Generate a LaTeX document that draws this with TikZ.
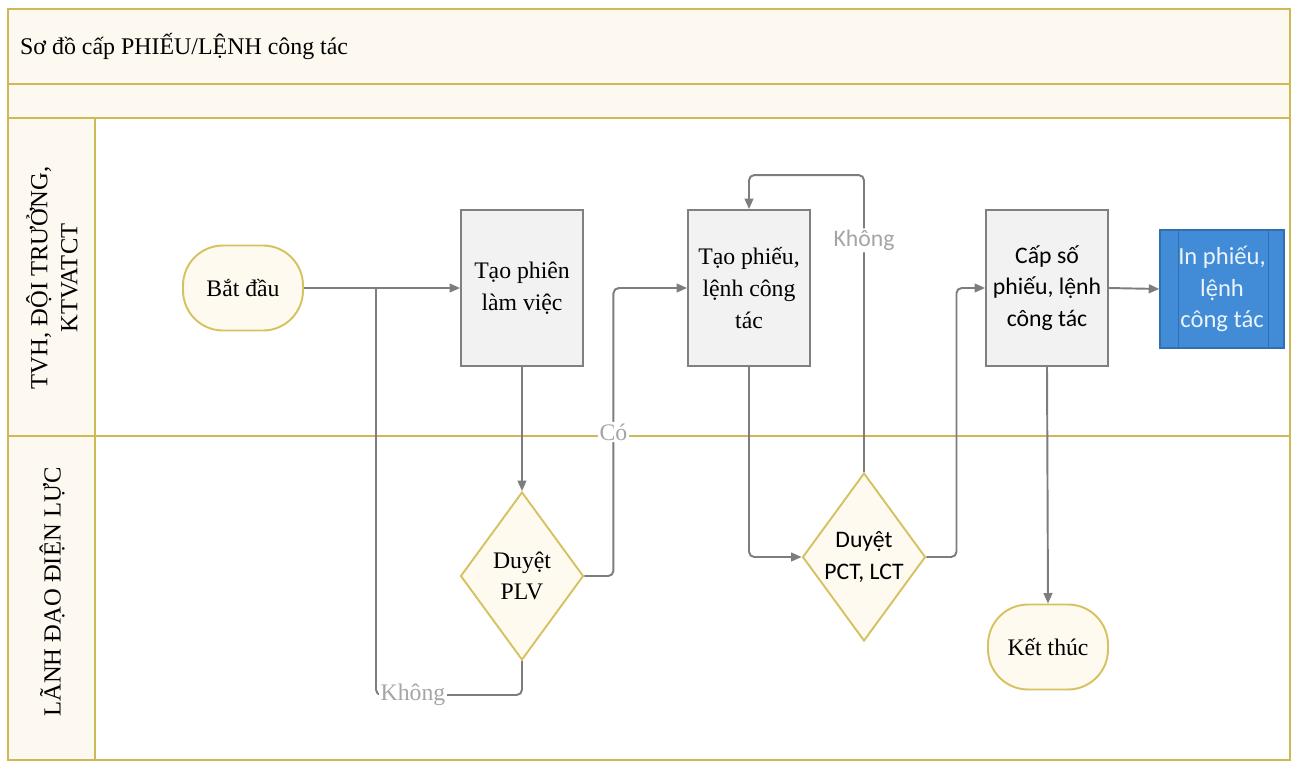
\documentclass[tikz,border=0pt]{standalone}
\usepackage{fontspec}
\setmainfont{Liberation Serif}
\newfontfamily\timesfont{Liberation Serif}
\newfontfamily\calibri{Carlito}
\usetikzlibrary{arrows.meta, positioning, shapes.geometric}
\definecolor{lanegold}{RGB}{206,186,84}
\definecolor{lanecream}{RGB}{253,249,240}
\definecolor{termfill}{RGB}{254,250,240}
\definecolor{termline}{RGB}{214,194,96}
\definecolor{boxfill}{RGB}{242,242,242}
\definecolor{boxline}{RGB}{128,128,128}
\definecolor{flowgray}{RGB}{125,125,125}
\definecolor{notegray}{RGB}{165,165,165}
\definecolor{printblue}{RGB}{66,139,214}
\definecolor{printedge}{RGB}{50,110,178}

\begin{document}
\begin{tikzpicture}[x=0.02cm, y=-0.02cm,
  every node/.style={font=\timesfont\fontsize{13.5}{18}\selectfont, align=center},
  term/.style={draw=termline, fill=termfill, line width=1.1pt, rounded corners=0.8cm,
    minimum width=2.4cm, minimum height=1.7cm},
  proc/.style={draw=boxline, fill=boxfill, line width=1.1pt, inner sep=2pt,
    minimum width=2.44cm, minimum height=3.12cm},
  check/.style={diamond, draw=termline, fill=termfill, line width=1.1pt, aspect=0.74,
    inner sep=0pt, minimum width=2.46cm, minimum height=3.36cm},
  flow/.style={draw=flowgray, line width=1.1pt, rounded corners=3pt,
    -{Triangle[length=6pt,width=5pt]}},
  link/.style={draw=flowgray, line width=1.1pt, rounded corners=3pt},
  note/.style={text=notegray, fill=white, inner sep=1pt},
  lane/.style={draw=lanegold, line width=1.2pt}]

% page and swimlane frame
\fill[white] (0,0) rectangle (1298,758);
\draw[lane, fill=lanecream] (8,9) rectangle (1290,84);
\draw[lane, fill=lanecream] (8,84) rectangle (1290,118);
\draw[lane, fill=white] (95,118) rectangle (1290,436);
\draw[lane, fill=white] (95,436) rectangle (1290,760);
\draw[lane, fill=lanecream] (8,118) rectangle (95,436);
\draw[lane, fill=lanecream] (8,436) rectangle (95,760);

\node[anchor=west, font=\timesfont\fontsize{13.6}{18}\selectfont] (title) at (14,46) {Sơ đồ cấp PHIẾU/LỆNH công tác};
\node[rotate=90, font=\timesfont\fontsize{14}{17}\selectfont] (laneA) at (52,278) {TVH, ĐỘI TRƯỞNG,\\KTVATCT};
\node[rotate=90, font=\timesfont\fontsize{14}{17}\selectfont] (laneB) at (52,592) {LÃNH ĐẠO ĐIỆN LỰC};

% steps
\node[term] (start) at (243,288) {Bắt đầu};
\node[proc] (tpv) at (522,288) {Tạo phiên\\làm việc};
\node[check] (plv) at (522,576) {Duyệt\\PLV};
\node[proc] (tpc) at (749,288) {Tạo phiếu,\\lệnh công\\tác};
\node[check, font=\calibri\fontsize{13.5}{18}\selectfont] (pct) at (864,557) {Duyệt\\PCT, LCT};
\node[proc, font=\calibri\fontsize{13.5}{18}\selectfont] (cap) at (1047,288) {Cấp số\\phiếu, lệnh\\công tác};
\node[draw=printedge, fill=printblue, text=white!90!printblue, line width=0.8pt,
  minimum width=2.48cm, minimum height=2.36cm, font=\calibri\fontsize{14}{18}\selectfont] (print) at (1222,289) {In phiếu,\\lệnh\\công tác};
\draw[printedge, line width=0.8pt] ([xshift=0.38cm]print.north west) -- ([xshift=0.38cm]print.south west);
\draw[printedge, line width=0.8pt] ([xshift=-0.32cm]print.north east) -- ([xshift=-0.32cm]print.south east);
\node[term] (end) at (1048,647) {Kết thúc};

% bends of the return paths
\coordinate (backA) at (376,695);
\coordinate (joinA) at (376,288);

% connectors
\draw[flow] (start) -- (tpv);
\draw[flow] (tpv) -- (plv);
\draw[link] (plv.south) |- (backA) -- (joinA);
\node[note] (noA) at (413,695) {Không};
\draw[flow] (plv.east) -- ++(29,0) |- node[pos=0.25, note] (yesA) {Có} (tpc.west);
\draw[flow] (tpc.south) |- (pct.west);
\draw[flow] (pct.north) -- ++(0,-297) node[pos=0.78, note, font=\calibri\fontsize{13.5}{18}\selectfont] (noB) {Không} -| (tpc.north);
\draw[flow] (pct.east) -- ++(30,0) |- (cap.west);
\draw[flow] (cap.south) -- (end.north);
\draw[flow] (cap.east) -- (print.west);
\end{tikzpicture}
\end{document}
